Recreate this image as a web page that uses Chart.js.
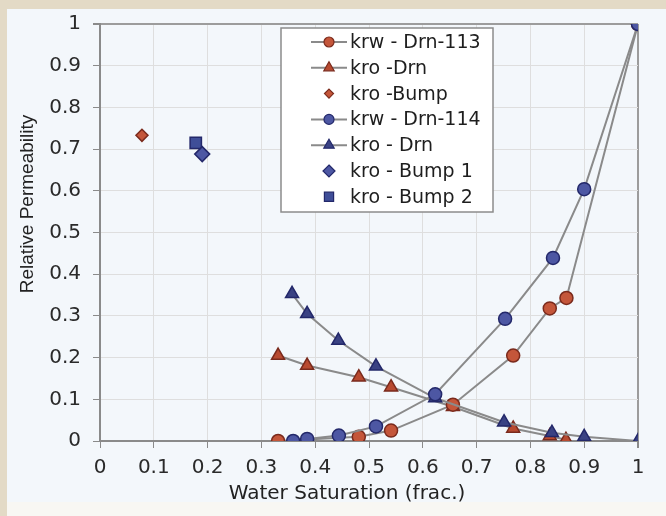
<!DOCTYPE html>
<html>
<head>
<meta charset="utf-8">
<script src="https://cdn.jsdelivr.net/npm/chart.js@4.4.1/dist/chart.umd.min.js"></script>
<style>
  html, body { margin: 0; padding: 0; }
  body { width: 666px; height: 516px; background: #e3dac6; position: relative; overflow: hidden; }
  #panel { position: absolute; left: 7px; top: 9px; width: 659px; height: 493px; background: #f3f7fb; }
  #strip { position: absolute; left: 7px; top: 502px; width: 659px; height: 14px; background: #f8f7f3; }
  canvas { position: absolute; left: 0; top: 0; }
</style>
</head>
<body>
<div id="panel"></div>
<div id="strip"></div>
<canvas id="chart" width="666" height="516"></canvas>
<script>
// axis ticks (both axes)
const axisTicks = [0, 0.1, 0.2, 0.3, 0.4, 0.5, 0.6, 0.7, 0.8, 0.9, 1];

// krw - Drn-113
const krw113X = [0.331, 0.481, 0.541, 0.656, 0.768, 0.836, 0.867, 1.0];
const krw113Y = [0.0, 0.01, 0.025, 0.087, 0.205, 0.318, 0.343, 1.0];

// kro -Drn (113)
const kro113X = [0.331, 0.385, 0.481, 0.541, 0.656, 0.768, 0.836, 0.866];
const kro113Y = [0.205, 0.181, 0.153, 0.129, 0.082, 0.03, 0.012, 0.003];

// kro -Bump
const bumpX = [0.078];
const bumpY = [0.733];

// krw - Drn-114
const krw114X = [0.359, 0.385, 0.444, 0.513, 0.623, 0.753, 0.842, 0.9, 1.0];
const krw114Y = [0.0, 0.005, 0.013, 0.035, 0.112, 0.293, 0.439, 0.604, 1.0];

// kro - Drn (114)
const kro114X = [0.357, 0.385, 0.443, 0.513, 0.623, 0.751, 0.84, 0.9, 1.0];
const kro114Y = [0.353, 0.305, 0.241, 0.179, 0.103, 0.045, 0.02, 0.01, 0.0];

// kro - Bump 1, kro - Bump 2
const bump1X = [0.19];
const bump1Y = [0.688];
const bump2X = [0.178];
const bump2Y = [0.715];

const RED = "#c4563a", RED_EDGE = "#7a2a1c";
const RED_TRI = "#b84a30";
const BLUE = "#4d57a3", BLUE_EDGE = "#23286a";
const BLUE_TRI = "#3a4283";
const LINE = "#8a8a8a";

function pts(xs, ys) {
  return xs.map((x, i) => ({ x: x, y: ys[i] }));
}

function series(label, xs, ys, style, fill, edge, radius, line, order) {
  return {
    label: label,
    data: pts(xs, ys),
    showLine: line,
    order: order,
    borderColor: LINE,
    borderWidth: 2,
    pointStyle: style,
    pointRadius: radius,
    pointHoverRadius: radius,
    pointBackgroundColor: fill,
    pointBorderColor: edge,
    pointBorderWidth: 1.5
  };
}

// red series sit underneath the blue ones (higher order = drawn first)
const datasets = [
  series("krw - Drn-113", krw113X, krw113Y, "circle", RED, RED_EDGE, 6.5, true, 2),
  series("kro -Drn", kro113X, kro113Y, "triangle", RED_TRI, RED_EDGE, 7.5, true, 2),
  series("kro -Bump", bumpX, bumpY, "rectRot", RED, RED_EDGE, 6, false, 2),
  series("krw - Drn-114", krw114X, krw114Y, "circle", BLUE, BLUE_EDGE, 6.5, true, 1),
  series("kro - Drn", kro114X, kro114Y, "triangle", BLUE_TRI, BLUE_EDGE, 7.5, true, 1),
  series("kro - Bump 1", bump1X, bump1Y, "rectRot", BLUE, BLUE_EDGE, 7.5, false, 1),
  series("kro - Bump 2", bump2X, bump2Y, "rect", "#3f4e98", BLUE_EDGE, 8, false, 1)
];

/* marker drawing for the legend */
function drawMarker(ctx, style, x, y, r, fill, edge) {
  ctx.beginPath();
  if (style === "circle") {
    ctx.arc(x, y, r, 0, Math.PI * 2);
  } else if (style === "triangle") {
    for (let k = 0; k < 3; k++) {
      const a = k * 2 * Math.PI / 3;
      const px = x + Math.sin(a) * r, py = y - Math.cos(a) * r;
      k === 0 ? ctx.moveTo(px, py) : ctx.lineTo(px, py);
    }
    ctx.closePath();
  } else if (style === "rectRot") {
    ctx.moveTo(x, y - r); ctx.lineTo(x + r, y); ctx.lineTo(x, y + r); ctx.lineTo(x - r, y);
    ctx.closePath();
  } else {
    const s = r * Math.SQRT1_2;
    ctx.rect(x - s, y - s, 2 * s, 2 * s);
  }
  ctx.fillStyle = fill;
  ctx.fill();
  ctx.lineWidth = 1.2;
  ctx.strokeStyle = edge;
  ctx.stroke();
}

/* legend box inside the plot + axis titles */
const boxLegend = {
  id: "boxLegend",
  afterDraw(chart) {
    const ctx = chart.ctx;
    ctx.save();
    // legend frame
    ctx.fillStyle = "#ffffff";
    ctx.fillRect(281, 28, 212, 184);
    ctx.strokeStyle = "#8c8c8c";
    ctx.lineWidth = 1.5;
    ctx.strokeRect(281, 28, 212, 184);

    ctx.font = '19px "DejaVu Sans"';
    ctx.textBaseline = "middle";
    ctx.textAlign = "left";
    chart.data.datasets.forEach((ds, i) => {
      const y = 42 + i * 25.8;
      if (ds.showLine) {
        ctx.strokeStyle = LINE;
        ctx.lineWidth = 2;
        ctx.beginPath();
        ctx.moveTo(311, y);
        ctx.lineTo(347, y);
        ctx.stroke();
      }
      drawMarker(ctx, ds.pointStyle, 329, y, ds.pointRadius - 1.5,
        ds.pointBackgroundColor, ds.pointBorderColor);
      ctx.fillStyle = "#1e1e1e";
      ctx.fillText(ds.label, 350, y + 1);
    });

    // axis titles
    ctx.fillStyle = "#222";
    ctx.textAlign = "center";
    ctx.font = '20px "DejaVu Sans"';
    ctx.fillText("Water Saturation (frac.)", 347, 494);
    ctx.translate(28, 204);
    ctx.rotate(-Math.PI / 2);
    ctx.font = '19px "Liberation Sans"';
    ctx.fillText("Relative Permeability", 0, 0);
    ctx.restore();
  }
};

const tickFont = { family: "DejaVu Sans", size: 20 };
const gridColor = c => (c.tick && c.tick.value === 1 ? "#9c9c9c" : "#dedede");
const gridWidth = c => (c.tick && c.tick.value === 1 ? 2 : 1);
const setTicks = s => { s.ticks = axisTicks.map(v => ({ value: v })); };
const fmt = v => String(+v.toFixed(1));

new Chart(document.getElementById("chart"), {
  type: "scatter",
  data: { datasets: datasets },
  options: {
    responsive: false,
    animation: false,
    layout: { padding: { top: 22, right: 28, left: 0, bottom: 0 } },
    plugins: {
      legend: { display: false },
      tooltip: { enabled: false }
    },
    scales: {
      x: {
        type: "linear",
        min: 0,
        max: 1,
        afterBuildTicks: setTicks,
        afterFit: s => { s.height = 75; },
        ticks: { font: tickFont, color: "#2a2a2a", padding: 8, callback: fmt, maxRotation: 0 },
        grid: { color: gridColor, lineWidth: gridWidth, tickLength: 7, tickColor: "#8a8a8a" },
        border: { color: "#8a8a8a", width: 2 }
      },
      y: {
        type: "linear",
        min: 0,
        max: 1,
        afterBuildTicks: setTicks,
        afterFit: s => { s.width = 100; },
        ticks: { font: tickFont, color: "#2a2a2a", padding: 12, callback: fmt },
        grid: { color: gridColor, lineWidth: gridWidth, tickLength: 7, tickColor: "#8a8a8a" },
        border: { color: "#8a8a8a", width: 2 }
      }
    }
  },
  plugins: [boxLegend]
});
</script>
</body>
</html>
